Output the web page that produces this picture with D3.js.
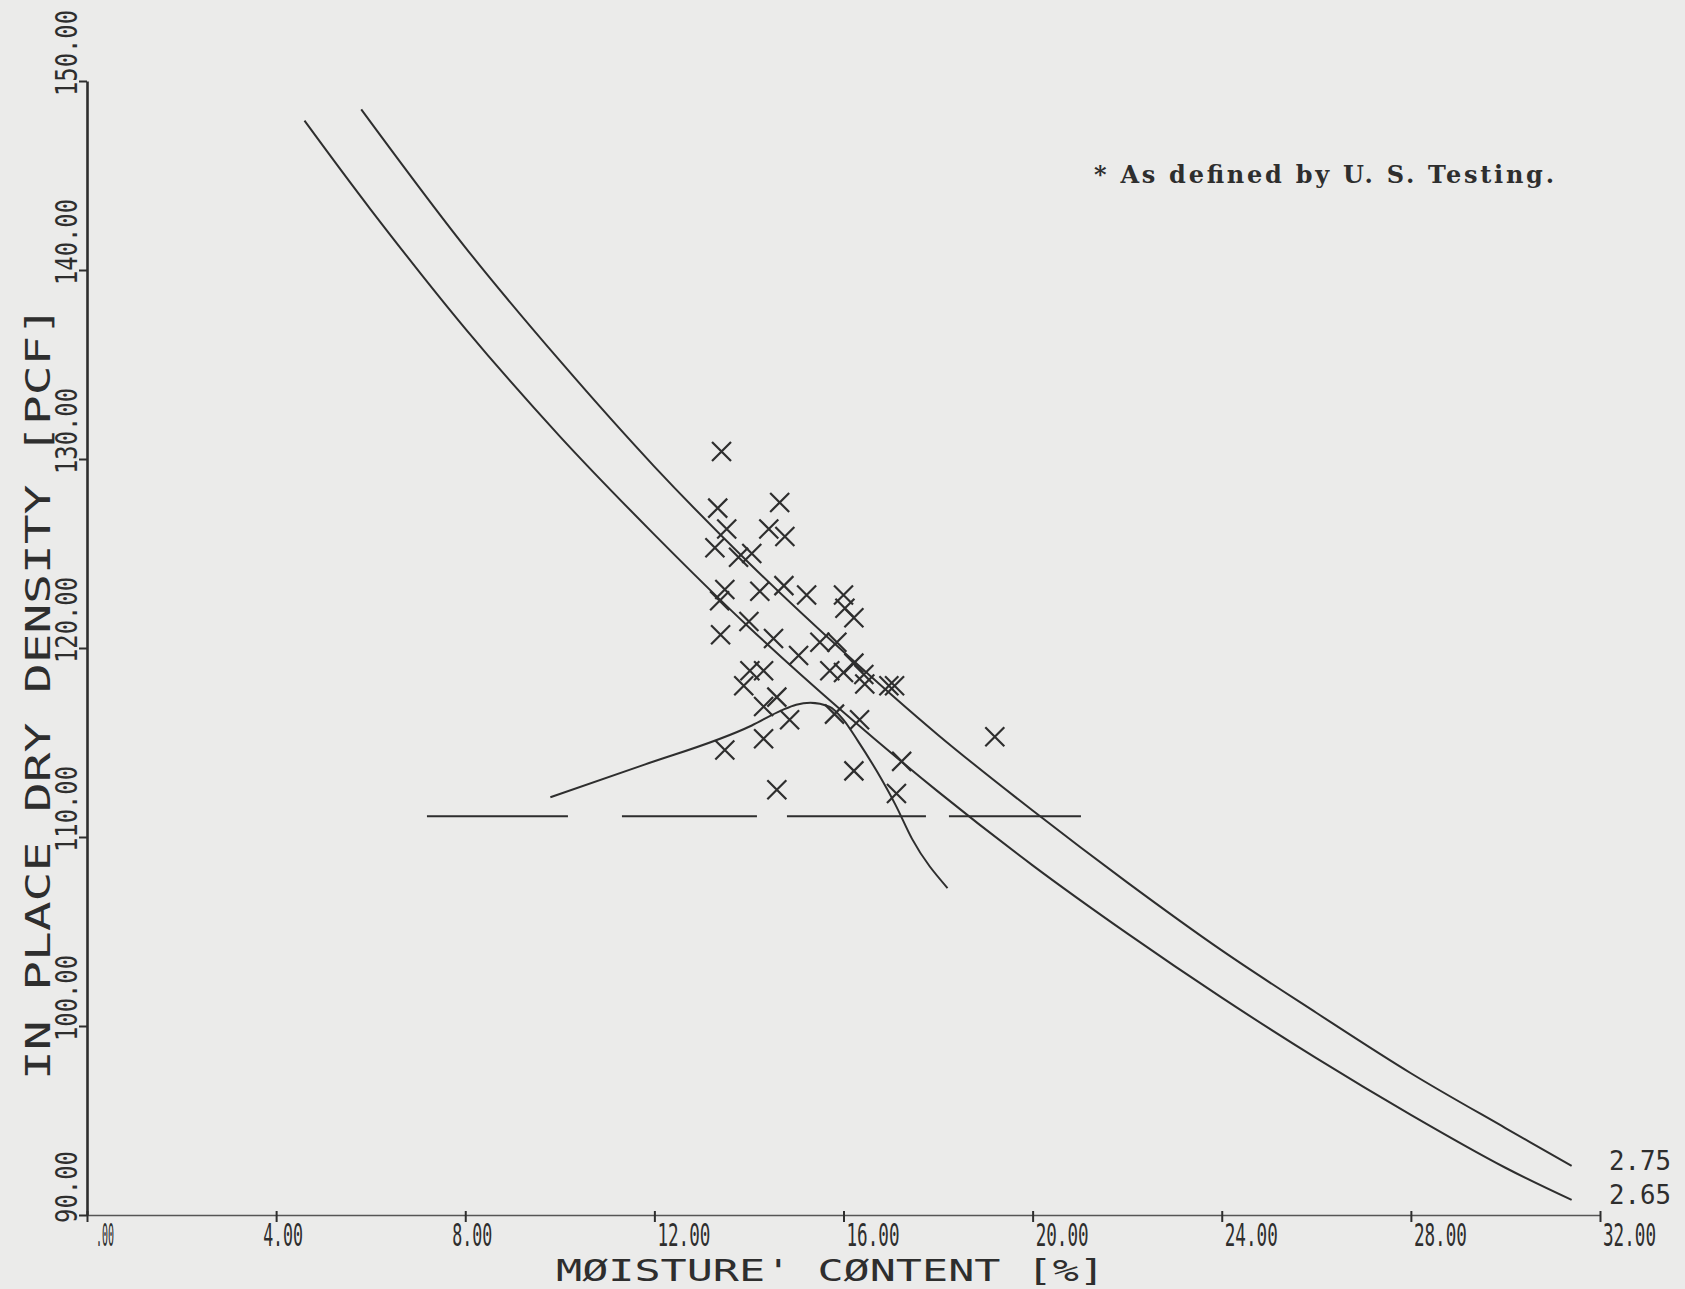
<!DOCTYPE html>
<html>
<head>
<meta charset="utf-8">
<script src="https://cdn.jsdelivr.net/npm/d3@7/dist/d3.min.js"></script>
<style>
  body { margin: 0; background: #ebebea; }
  svg text { fill: #2e2e2e; }
</style>
</head>
<body>
<div id="chart"></div>
<script>
// axis ticks
var xTicks = [0, 4, 8, 12, 16, 20, 24, 28, 32];
var xTickLabels = ['.00', '4.00', '8.00', '12.00', '16.00', '20.00', '24.00', '28.00', '32.00'];
var yTicks = [90, 100, 110, 120, 130, 140, 150];
var yTickLabels = ['90.00', '100.00', '110.00', '120.00', '130.00', '140.00', '150.00'];

// field tests: moisture (%) and in place dry density (pcf)
var testMoisture = [13.42, 13.34, 14.65, 13.53, 14.42, 14.76, 13.28, 13.78, 14.06, 13.49,
                    13.38, 14.23, 14.74, 15.22, 16.00, 16.03, 16.22, 14.00, 13.40, 14.52,
                    15.50, 15.86, 15.05, 16.22, 15.71, 16.00, 16.43, 16.45, 16.96, 17.08,
                    14.02, 14.31, 13.89, 14.59, 14.31, 14.86, 15.81, 16.34, 14.31, 13.49,
                    19.20, 16.22, 17.23, 17.12, 14.59];
var testDensity  = [130.4, 127.4, 127.7, 126.3, 126.3, 125.9, 125.3, 124.8, 125.0, 123.1,
                    122.5, 123.0, 123.3, 122.8, 122.8, 122.1, 121.6, 121.4, 120.7, 120.5,
                    120.3, 120.3, 119.6, 119.2, 118.8, 118.7, 118.6, 118.1, 118.0, 118.0,
                    118.8, 118.8, 118.0, 117.4, 116.9, 116.2, 116.5, 116.2, 115.2, 114.6,
                    115.3, 113.5, 114.0, 112.3, 112.5];

// zero air voids curves
var zavLabels = ['2.75', '2.65'];
var zavMoistureA = [5.8, 8, 10, 12, 14, 16, 18, 20, 22, 24, 26, 28, 30, 31.4];
var zavDensityA  = [148.5, 141.2, 135.2, 129.6, 124.5, 119.8, 115.4, 111.4, 107.6, 104.0, 100.7, 97.5, 94.6, 92.6];
var zavMoistureB = [4.6, 6, 8, 10, 12, 14, 16, 18, 20, 22, 24, 26, 28, 30, 31.4];
var zavDensityB  = [147.9, 143.2, 136.9, 131.2, 126.0, 121.1, 116.6, 112.4, 108.5, 104.9, 101.5, 98.3, 95.3, 92.5, 90.8];

// compaction curve
var compMoisture = [9.8, 11.7, 14.06, 14.69, 15.0, 15.3, 15.7, 16.0, 16.3, 16.7, 17.1, 17.45, 18.2];
var compDensity  = [112.1, 113.75, 115.9, 116.7, 117.0, 117.1, 116.9, 116.2, 115.1, 113.5, 111.7, 109.9, 107.3];

// minimum density line
var limitDensity = 111.1;
var limitMoisture = [7.19, 21.04];

var note = '* As defined by U. S. Testing.';
var xTitle = 'M\u00d8ISTURE\' C\u00d8NTENT [%]';
var yTitle = 'IN PLACE DRY DENSITY [PCF]';

var width = 1685,
    height = 1289,
    ink = '#2e2e2e';

var x = d3.scaleLinear().domain([0, 32]).range([87, 1600]);
var y = d3.scaleLinear().domain([90, 150]).range([1215, 81]);

var svg = d3.select('#chart').append('svg')
    .attr('width', width)
    .attr('height', height);

svg.append('rect').attr('width', width).attr('height', height).attr('fill', '#ebebea');

// axes
var gx = svg.append('g')
    .attr('transform', 'translate(0,' + y(90) + ')')
    .call(d3.axisBottom(x).tickValues(xTicks).tickFormat('').tickSize(7).tickSizeOuter(0));
gx.select('.domain').attr('stroke', '#555').attr('stroke-width', 1.6);
gx.selectAll('.tick line').attr('stroke', ink).attr('stroke-width', 2).attr('y1', -4);

var gy = svg.append('g')
    .attr('transform', 'translate(' + x(0) + ',0)')
    .call(d3.axisLeft(y).tickValues(yTicks).tickFormat('').tickSize(8).tickSizeOuter(0));
gy.select('.domain').attr('stroke', ink).attr('stroke-width', 2.6);
gy.selectAll('.tick line').attr('stroke', ink).attr('stroke-width', 2);

// tick labels, tall narrow plotter style
var tickFont = 'DejaVu Sans Mono, monospace';
var labelWidth = { 3: 18, 4: 40, 5: 53 };
svg.append('g').selectAll('text')
    .data(xTicks)
    .enter().append('text')
    .attr('transform', function (d, i) {
        var n = xTickLabels[i].length;
        var dx = n === 5 ? 3 : (n === 4 ? -13 : 9);
        return 'translate(' + (x(d) + dx) + ',1246) scale(1,1.8)';
    })
    .attr('font-family', tickFont)
    .attr('font-size', 17.5)
    .attr('textLength', function (d, i) { return labelWidth[xTickLabels[i].length]; })
    .attr('lengthAdjust', 'spacingAndGlyphs')
    .text(function (d, i) { return xTickLabels[i]; });

svg.append('g').selectAll('text')
    .data(yTicks)
    .enter().append('text')
    .attr('transform', function (d) { return 'translate(77,' + (y(d) - 28) + ') rotate(-90) scale(1,1.26)'; })
    .attr('text-anchor', 'middle')
    .attr('font-family', tickFont)
    .attr('font-size', 24)
    .attr('textLength', function (d, i) { return yTickLabels[i].length === 6 ? 86 : 72; })
    .attr('lengthAdjust', 'spacingAndGlyphs')
    .text(function (d, i) { return yTickLabels[i]; });

// axis titles
svg.append('text')
    .attr('x', 556).attr('y', 1281)
    .attr('font-family', tickFont)
    .attr('font-size', 30)
    .attr('textLength', 549)
    .attr('lengthAdjust', 'spacingAndGlyphs')
    .text(xTitle);

svg.append('text')
    .attr('transform', 'translate(50,1080) rotate(-90)')
    .attr('font-family', tickFont)
    .attr('font-size', 34)
    .attr('textLength', 774)
    .attr('lengthAdjust', 'spacingAndGlyphs')
    .text(yTitle);

// curves
var zavLine = d3.line()
    .x(function (d) { return x(d[0]); })
    .y(function (d) { return y(d[1]); })
    .curve(d3.curveCatmullRom);

var compLine = d3.line()
    .x(function (d) { return x(d[0]); })
    .y(function (d) { return y(d[1]); })
    .curve(d3.curveMonotoneX);

svg.append('g').selectAll('path')
    .data([d3.zip(zavMoistureA, zavDensityA), d3.zip(zavMoistureB, zavDensityB)])
    .enter().append('path')
    .attr('d', zavLine)
    .attr('fill', 'none')
    .attr('stroke', ink)
    .attr('stroke-width', 2);

svg.append('path')
    .attr('d', compLine(d3.zip(compMoisture, compDensity)))
    .attr('fill', 'none')
    .attr('stroke', ink)
    .attr('stroke-width', 2);

// curve labels
svg.append('g').selectAll('text')
    .data([zavDensityA, zavDensityB])
    .enter().append('text')
    .attr('x', 1609)
    .attr('y', function (d, i) { return i === 0 ? 1170 : 1204; })
    .attr('font-family', tickFont)
    .attr('font-size', 26)
    .attr('textLength', 62)
    .attr('lengthAdjust', 'spacingAndGlyphs')
    .text(function (d, i) { return zavLabels[i]; });

// minimum density line
svg.append('line')
    .attr('x1', x(limitMoisture[0])).attr('x2', x(limitMoisture[1]))
    .attr('y1', y(limitDensity)).attr('y2', y(limitDensity))
    .attr('stroke', ink)
    .attr('stroke-width', 2)
    .attr('stroke-dasharray', '141 54 135 30 139 23 132');

// field test marks
var tests = d3.zip(testMoisture, testDensity);
var r = 9.5;
var marks = svg.append('g').selectAll('g')
    .data(tests)
    .enter().append('g')
    .attr('transform', function (d) { return 'translate(' + x(d[0]) + ',' + y(d[1]) + ')'; });
marks.append('path')
    .attr('d', 'M' + (-r) + ',' + (-r) + 'L' + r + ',' + r + 'M' + (-r) + ',' + r + 'L' + r + ',' + (-r))
    .attr('stroke', ink)
    .attr('stroke-width', 2.2);

// note
svg.append('text')
    .attr('x', 1094).attr('y', 183)
    .attr('font-family', 'DejaVu Serif, serif')
    .attr('font-weight', 'bold')
    .attr('font-size', 24)
    .attr('textLength', 460)
    .text(note);
</script>
</body>
</html>
